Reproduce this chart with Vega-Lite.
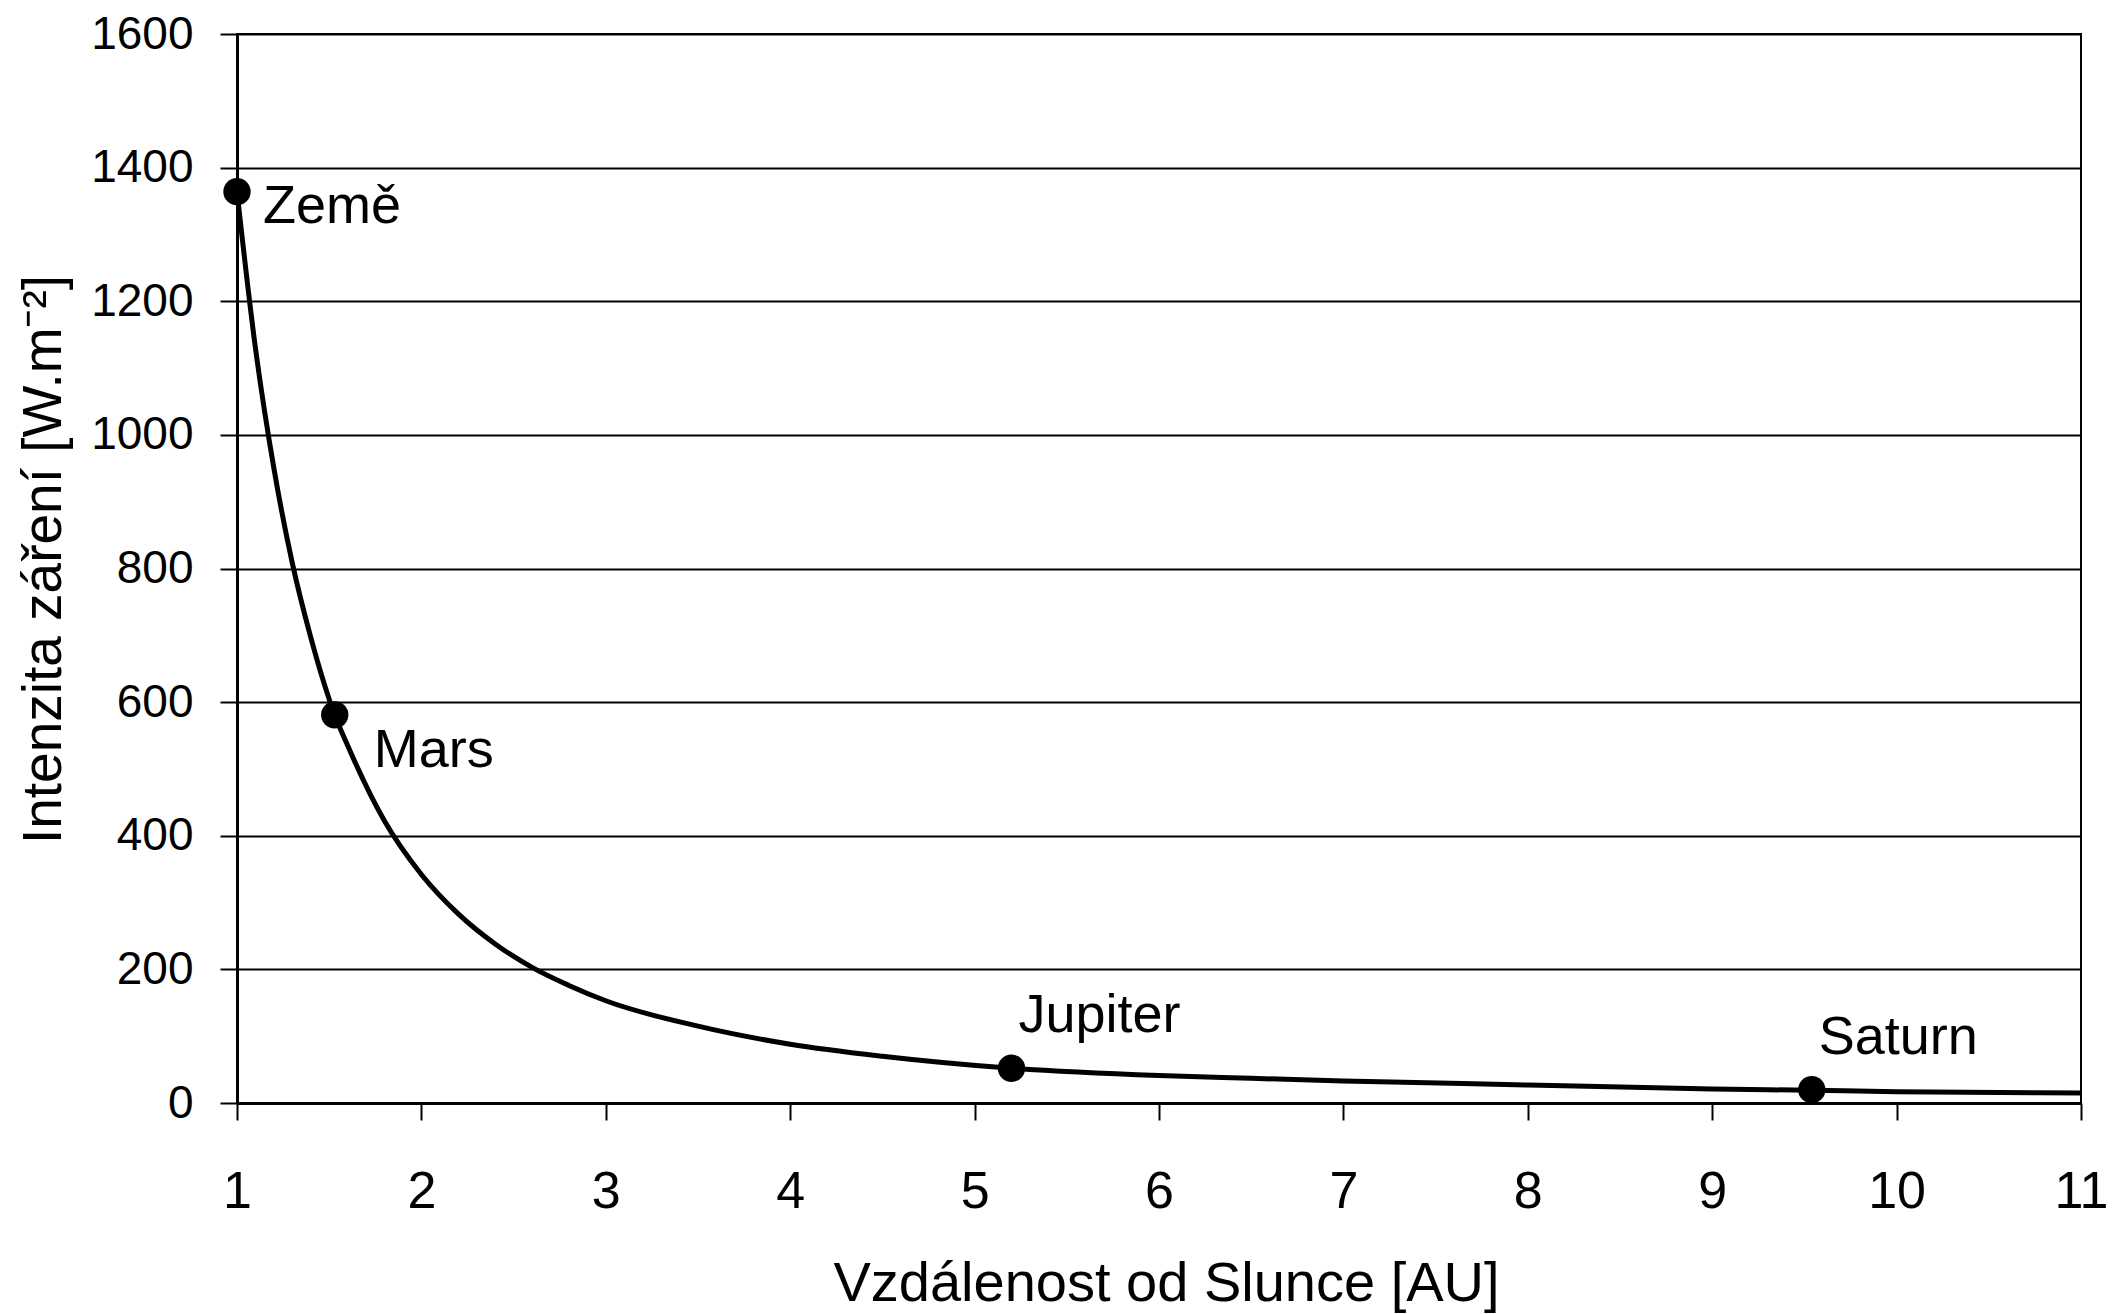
{
  "$schema": "https://vega.github.io/schema/vega-lite/v6.json",
  "width": 1844,
  "height": 1069,
  "autosize": {"type": "none"},
  "padding": {"left": 237, "top": 34, "right": 31, "bottom": 211},
  "background": "white",
  "config": {
    "view": {"stroke": "black", "strokeWidth": 2},
    "font": "Liberation Sans, Arial, sans-serif"
  },
  "datasets": {
    "curve": [
      {"au": 1.0, "intensity": 1364},
      {"au": 1.1, "intensity": 1130},
      {"au": 1.2, "intensity": 950},
      {"au": 1.3, "intensity": 808},
      {"au": 1.4, "intensity": 697},
      {"au": 1.53, "intensity": 581},
      {"au": 1.6, "intensity": 535},
      {"au": 1.8, "intensity": 422},
      {"au": 2.0, "intensity": 342},
      {"au": 2.2, "intensity": 283},
      {"au": 2.4, "intensity": 238},
      {"au": 2.6, "intensity": 203},
      {"au": 2.8, "intensity": 176},
      {"au": 3.0, "intensity": 153},
      {"au": 3.5, "intensity": 115},
      {"au": 4.0, "intensity": 88},
      {"au": 4.5, "intensity": 70},
      {"au": 5.2, "intensity": 52},
      {"au": 6.0, "intensity": 41},
      {"au": 6.5, "intensity": 37},
      {"au": 7.0, "intensity": 33},
      {"au": 8.0, "intensity": 27},
      {"au": 9.0, "intensity": 21},
      {"au": 9.54, "intensity": 19},
      {"au": 10.0, "intensity": 17},
      {"au": 11.0, "intensity": 15}
    ],
    "planets": [
      {"planet": "Země", "au": 1.0, "intensity": 1364},
      {"planet": "Mars", "au": 1.53, "intensity": 581},
      {"planet": "Jupiter", "au": 5.2, "intensity": 52},
      {"planet": "Saturn", "au": 9.54, "intensity": 20}
    ]
  },
  "encoding": {
    "x": {
      "field": "au",
      "type": "quantitative",
      "scale": {"domain": [1, 11], "nice": false, "zero": false},
      "axis": {
        "title": "Vzdálenost od Slunce [AU]",
        "values": [1, 2, 3, 4, 5, 6, 7, 8, 9, 10, 11],
        "format": "d",
        "grid": false,
        "domainColor": "black",
        "domainWidth": 3,
        "tickColor": "black",
        "tickWidth": 2,
        "tickSize": 17,
        "labelFontSize": 52,
        "labelColor": "black",
        "labelPadding": 46,
        "labelFlush": false,
        "labelOverlap": false,
        "titleFontSize": 56,
        "titleFontWeight": "normal",
        "titleColor": "black",
        "titleBaseline": "alphabetic",
        "titleX": 929,
        "titleY": 197
      }
    },
    "y": {
      "field": "intensity",
      "type": "quantitative",
      "scale": {"domain": [0, 1600], "nice": false},
      "axis": {
        "title": "Intenzita záření [W.m⁻²]",
        "values": [0, 200, 400, 600, 800, 1000, 1200, 1400, 1600],
        "format": "d",
        "grid": true,
        "gridColor": "black",
        "gridWidth": 2,
        "gridOpacity": 1,
        "domainColor": "black",
        "domainWidth": 3,
        "tickColor": "black",
        "tickWidth": 2,
        "tickSize": 17,
        "labelFontSize": 46,
        "labelColor": "black",
        "labelPadding": 27,
        "labelFlush": false,
        "labelOverlap": false,
        "titleFontSize": 55,
        "titleFontWeight": "normal",
        "titleColor": "black",
        "titleBaseline": "alphabetic",
        "titleAngle": 270,
        "titleX": -177,
        "titleY": 525
      }
    }
  },
  "layer": [
    {
      "data": {"name": "curve"},
      "mark": {"type": "line", "color": "black", "strokeWidth": 5, "interpolate": "monotone"}
    },
    {
      "data": {"name": "planets"},
      "mark": {"type": "point", "filled": true, "color": "black", "opacity": 1, "size": 750, "shape": "circle"}
    },
    {
      "data": {"name": "planets"},
      "transform": [{"filter": "datum.planet === 'Země'"}],
      "mark": {"type": "text", "align": "left", "baseline": "alphabetic", "dx": 26, "dy": 31, "fontSize": 54, "color": "black"},
      "encoding": {"text": {"field": "planet"}}
    },
    {
      "data": {"name": "planets"},
      "transform": [{"filter": "datum.planet === 'Mars'"}],
      "mark": {"type": "text", "align": "left", "baseline": "alphabetic", "dx": 39, "dy": 52, "fontSize": 54, "color": "black"},
      "encoding": {"text": {"field": "planet"}}
    },
    {
      "data": {"name": "planets"},
      "transform": [{"filter": "datum.planet === 'Jupiter' || datum.planet === 'Saturn'"}],
      "mark": {"type": "text", "align": "left", "baseline": "alphabetic", "dx": 7, "dy": -36, "fontSize": 54, "color": "black"},
      "encoding": {"text": {"field": "planet"}}
    }
  ]
}
